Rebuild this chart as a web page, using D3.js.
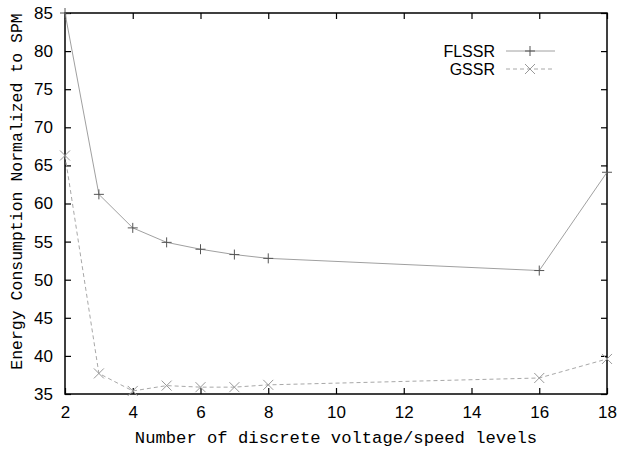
<!DOCTYPE html>
<html>
<head>
<meta charset="utf-8">
<script src="https://cdn.jsdelivr.net/npm/d3@7"></script>
<style>
  body { margin: 0; background: #fff; }
  svg { display: block; }
</style>
</head>
<body>
<div id="chart"></div>
<script>
// data
const levels = [2, 3, 4, 5, 6, 7, 8, 16, 18];
const flssr = [85, 61.2, 56.8, 54.9, 54.0, 53.3, 52.8, 51.2, 64.1];
const gssr = [66.3, 37.7, 35.4, 36.1, 35.9, 35.9, 36.2, 37.1, 39.6];
const xTicks = [2, 4, 6, 8, 10, 12, 14, 16, 18];
const yTicks = [35, 40, 45, 50, 55, 60, 65, 70, 75, 80, 85];

const width = 618, height = 449;
const margin = {top: 13, right: 11, bottom: 55, left: 65};

const svg = d3.select("#chart").append("svg")
    .attr("width", width)
    .attr("height", height);

const x = d3.scaleLinear().domain([2, 18]).range([margin.left, width - margin.right]);
const y = d3.scaleLinear().domain([35, 85]).range([height - margin.bottom, margin.top]);

const tickFont = "'Liberation Sans', Arial, Helvetica, sans-serif";
const monoFont = "'Liberation Mono', 'Courier New', monospace";

// axes: inward ticks on all four sides
function styleAxis(g, showLabels) {
    g.select(".domain").remove();
    g.selectAll(".tick line").attr("stroke", "#000").attr("stroke-width", 1.2);
    g.selectAll(".tick text")
        .attr("font-family", tickFont)
        .attr("font-size", 17)
        .attr("fill", "#000");
    if (!showLabels) g.selectAll(".tick text").remove();
}

svg.append("g")
    .attr("transform", `translate(0,${y(35)})`)
    .call(d3.axisBottom(x).tickValues(xTicks).tickSizeInner(-6).tickSizeOuter(0).tickPadding(12))
    .call(g => styleAxis(g, true));

svg.append("g")
    .attr("transform", `translate(0,${y(85)})`)
    .call(d3.axisTop(x).tickValues(xTicks).tickSizeInner(-6).tickSizeOuter(0))
    .call(g => styleAxis(g, false));

svg.append("g")
    .attr("transform", `translate(${x(2)},0)`)
    .call(d3.axisLeft(y).tickValues(yTicks).tickSizeInner(-6).tickSizeOuter(0).tickPadding(12))
    .call(g => styleAxis(g, true));

svg.append("g")
    .attr("transform", `translate(${x(18)},0)`)
    .call(d3.axisRight(y).tickValues(yTicks).tickSizeInner(-6).tickSizeOuter(0))
    .call(g => styleAxis(g, false));

// frame
svg.append("rect")
    .attr("x", x(2))
    .attr("y", y(85))
    .attr("width", x(18) - x(2))
    .attr("height", y(35) - y(85))
    .attr("fill", "none")
    .attr("stroke", "#000")
    .attr("stroke-width", 1.5);

// axis titles
svg.append("text")
    .attr("x", (x(2) + x(18)) / 2)
    .attr("y", 443)
    .attr("text-anchor", "middle")
    .attr("font-family", monoFont)
    .attr("font-size", 17.2)
    .attr("fill", "#000")
    .text("Number of discrete voltage/speed levels");

svg.append("text")
    .attr("transform", `translate(22,${(y(35) + y(85)) / 2 - 12}) rotate(-90)`)
    .attr("text-anchor", "middle")
    .attr("font-family", monoFont)
    .attr("font-size", 16.5)
    .attr("fill", "#000")
    .text("Energy Consumption Normalized to SPM");

const line = d3.line()
    .x(d => x(d[0]))
    .y(d => y(d[1]));

const series = [
    {name: "FLSSR", values: flssr, dash: null, marker: "plus", color: "#a0a0a0", mcolor: "#555"},
    {name: "GSSR", values: gssr, dash: "4,3", marker: "cross", color: "#a8a8a8", mcolor: "#999"}
];

function drawMarker(g, type, cx, cy, color) {
    const s = 5;
    if (type === "plus") {
        g.append("path")
            .attr("d", `M${cx - s},${cy}H${cx + s}M${cx},${cy - s}V${cy + s}`)
            .attr("stroke", color).attr("stroke-width", 1).attr("fill", "none");
    } else {
        g.append("path")
            .attr("d", `M${cx - s},${cy - s}L${cx + s},${cy + s}M${cx - s},${cy + s}L${cx + s},${cy - s}`)
            .attr("stroke", color).attr("stroke-width", 1).attr("fill", "none");
    }
}

series.forEach((s, i) => {
    const pts = levels.map((l, j) => [l, s.values[j]]);
    svg.append("path")
        .datum(pts)
        .attr("d", line)
        .attr("fill", "none")
        .attr("stroke", s.color)
        .attr("stroke-width", 1)
        .attr("stroke-dasharray", s.dash);

    const mg = svg.append("g");
    pts.forEach(p => drawMarker(mg, s.marker, x(p[0]), y(p[1]), s.mcolor));

    // legend
    const ly = 51 + i * 18;
    svg.append("text")
        .attr("x", 495)
        .attr("y", ly)
        .attr("dy", "0.35em")
        .attr("text-anchor", "end")
        .attr("font-family", tickFont)
        .attr("font-size", 16)
        .attr("fill", "#000")
        .text(s.name);
    svg.append("line")
        .attr("x1", 506).attr("x2", 555)
        .attr("y1", ly).attr("y2", ly)
        .attr("stroke", s.color)
        .attr("stroke-width", 1)
        .attr("stroke-dasharray", s.dash);
    drawMarker(svg, s.marker, 530, ly, s.mcolor);
});
</script>
</body>
</html>
